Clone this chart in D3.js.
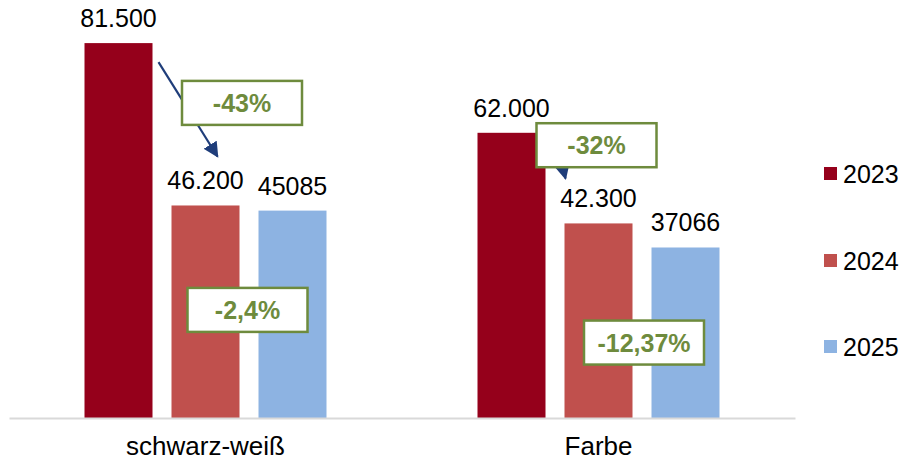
<!DOCTYPE html>
<html>
<head>
<meta charset="utf-8">
<script src="https://cdn.jsdelivr.net/npm/d3@7"></script>
<style>
    body { margin: 0; background: #fff; }
    svg { display: block; font-family: "Liberation Sans", Arial, sans-serif; }
</style>
</head>
<body>
<svg id="chart" width="903" height="464"></svg>
<script>
// Chart data
var categories = ["schwarz-weiß", "Farbe"];
var years = ["2023", "2024", "2025"];
var values2023 = [81500, 62000];
var values2024 = [46200, 42300];
var values2025 = [45085, 37066];
var valueLabels2023 = ["81.500", "62.000"];
var valueLabels2024 = ["46.200", "42.300"];
var valueLabels2025 = ["45085", "37066"];
var colors = ["#95001b", "#c0504d", "#8db3e2"];

// Change callouts: text, category, and the value level they sit at
var changeTexts = ["-43%", "-32%", "-2,4%", "-12,37%"];
var changeCats = ["schwarz-weiß", "Farbe", "schwarz-weiß", "Farbe"];
var changeLevels = [68500, 59300, 23500, 16400];

var svg = d3.select("#chart");

var x0 = d3.scaleBand().domain(categories).range([9, 795]).padding(0);
var x1 = d3.scaleBand().domain(years)
    .range([75.5, 317.5])
    .paddingInner(19 / 87).paddingOuter(0);
var y = d3.scaleLinear().domain([0, 90000]).range([418, 4]);

var series = [values2023, values2024, values2025];
var labels = [valueLabels2023, valueLabels2024, valueLabels2025];

var rows = [];
years.forEach(function(yr, j) {
    categories.forEach(function(c, i) {
        rows.push({ cat: c, year: yr, value: series[j][i], label: labels[j][i], color: colors[j] });
    });
});

// Bars
svg.append("g").selectAll("rect")
    .data(rows).enter()
    .append("rect")
    .attr("x", function(d) { return x0(d.cat) + x1(d.year); })
    .attr("y", function(d) { return y(d.value); })
    .attr("width", x1.bandwidth())
    .attr("height", function(d) { return y(0) - y(d.value); })
    .attr("fill", function(d) { return d.color; });

// Value labels
svg.append("g").selectAll("text")
    .data(rows).enter()
    .append("text")
    .attr("x", function(d) { return x0(d.cat) + x1(d.year) + x1.bandwidth() / 2; })
    .attr("y", function(d) { return y(d.value) - 16; })
    .attr("text-anchor", "middle")
    .attr("font-size", 25)
    .attr("fill", "#000")
    .text(function(d) { return d.label; });

// Category axis
var xAxis = svg.append("g").attr("transform", "translate(0," + y(0) + ")")
    .call(d3.axisBottom(x0).tickSize(0).tickPadding(19));
xAxis.select(".domain").attr("stroke", "#d9d9d9").attr("stroke-width", 2);
xAxis.selectAll("text")
    .attr("font-size", 26)
    .attr("font-family", "Liberation Sans, Arial, sans-serif")
    .attr("fill", "#000");

// Arrows (from 2023 bar top towards 2024 bar top)
var defs = svg.append("defs");
defs.append("marker")
    .attr("id", "head")
    .attr("viewBox", "0 0 10 10")
    .attr("refX", 9).attr("refY", 5)
    .attr("markerWidth", 7).attr("markerHeight", 7)
    .attr("markerUnits", "strokeWidth")
    .attr("orient", "auto")
    .append("path").attr("d", "M0,0 L10,5 L0,10 Z").attr("fill", "#1f3d7a");

categories.forEach(function(c, i) {
    var xs = x0(c) + x1("2023") + x1.bandwidth();
    var xe = x0(c) + x1("2024") + (i == 0 ? 46 : 1);
    var ys = y(values2023[i]) + (i == 0 ? 19 : -10);
    var ye = y(values2024[i]) - (i == 0 ? 49 : 45);
    svg.append("line")
        .attr("x1", xs + 6).attr("y1", ys)
        .attr("x2", xe).attr("y2", ye)
        .attr("stroke", "#1f3d7a")
        .attr("stroke-width", 2.2)
        .attr("marker-end", "url(#head)");
});

// Change callout boxes
var boxX = [
    function(c) { return x0(c) + x1("2024") + x1.bandwidth() / 2 + 36.5; },
    function(c) { return x0(c) + x1("2024") + x1.bandwidth() / 2 - 2; },
    function(c) { return x0(c) + x1("2025") - 11; },
    function(c) { return x0(c) + x1("2025") - 7.5; }
];
var boxW = 120, boxH = 44;
changeTexts.forEach(function(t, i) {
    var cx = boxX[i](changeCats[i]);
    var cy = y(changeLevels[i]);
    var g = svg.append("g");
    g.append("rect")
        .attr("x", cx - boxW / 2).attr("y", cy - boxH / 2)
        .attr("width", boxW).attr("height", boxH)
        .attr("fill", "#fff")
        .attr("stroke", "#6e8b3d")
        .attr("stroke-width", 2.5);
    g.append("text")
        .attr("x", cx).attr("y", cy + 9)
        .attr("text-anchor", "middle")
        .attr("font-size", 25)
        .attr("font-weight", "bold")
        .attr("fill", "#6e8b3d")
        .text(t);
});

// Legend
var legendY = [174, 261, 347];
var legend = svg.append("g").selectAll("g")
    .data(years).enter()
    .append("g")
    .attr("transform", function(d, i) { return "translate(824," + legendY[i] + ")"; });
legend.append("rect")
    .attr("x", 0).attr("y", -7)
    .attr("width", 13).attr("height", 13)
    .attr("fill", function(d, i) { return colors[i]; });
legend.append("text")
    .attr("x", 19).attr("y", 9)
    .attr("font-size", 25)
    .attr("fill", "#000")
    .text(function(d) { return d; });
</script>
</body>
</html>
